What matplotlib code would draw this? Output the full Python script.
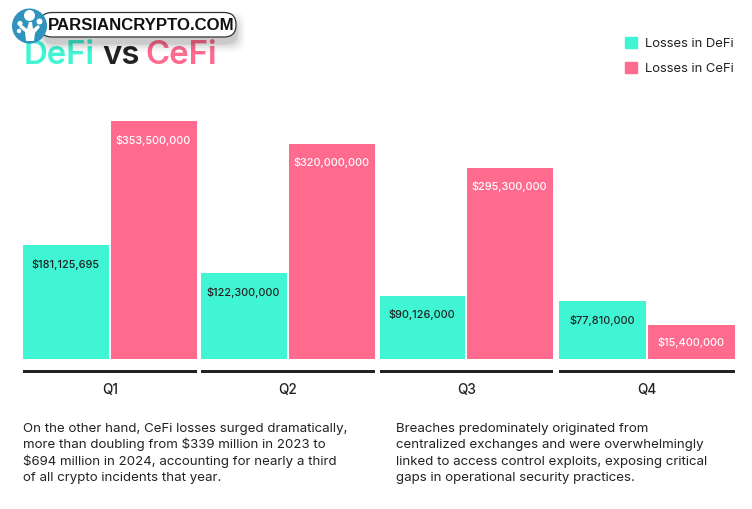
import matplotlib
matplotlib.use("Agg")
import matplotlib.pyplot as plt
from matplotlib.patches import Circle, FancyBboxPatch, Polygon, Patch

# ---- data ----
quarters = ["Q1", "Q2", "Q3", "Q4"]
# Printed labels
defi_labels = ["$181,125,695", "$122,300,000", "$90,126,000", "$77,810,000"]
cefi_labels = ["$353,500,000", "$320,000,000", "$295,300,000", "$15,400,000"]
# Bar heights as drawn in the picture, in $ million (the source's bars are not
# strictly proportional to their printed labels)
defi_drawn = [169.3, 127.7, 93.6, 86.1]
cefi_drawn = [353.5, 319.4, 283.7, 50.5]
series_names = ["Losses in DeFi", "Losses in CeFi"]
title_parts = ["DeFi", "vs", "CeFi"]
para_left = ["On the other hand, CeFi losses surged dramatically,",
             "more than doubling from $339 million in 2023 to",
             "$694 million in 2024, accounting for nearly a third",
             "of all crypto incidents that year."]
para_right = ["Breaches predominately originated from",
              "centralized exchanges and were overwhelmingly",
              "linked to access control exploits, exposing critical",
              "gaps in operational security practices."]
watermark = "PARSIANCRYPTO.COM"

# ---- style / layout ----
W, H = 752, 509
TEAL, PINK, DARK = "#3ff5d3", "#ff6a8f", "#222222"
plt.rcParams["font.family"] = ["Inter", "DejaVu Sans"]
PX = 0.72  # px -> pt at dpi 100

fig = plt.figure(figsize=(W / 100, H / 100), dpi=100)
# bar axes: baseline at y=359 px, 353.5M at y=121 px
ax = fig.add_axes([0, (H - 359) / H, 1, 238 / H])
ax.set_xlim(0, W)
ax.set_ylim(0, 353.5)
ax.patch.set_alpha(0)
for s in ax.spines.values():
    s.set_visible(False)
ax.yaxis.set_visible(False)

group_l = [23, 201, 379.5, 559]
group_r = [197, 374.5, 553, 735]
centers = [(l + r) / 2 for l, r in zip(group_l, group_r)]
gap = 2
y_per_px = 353.5 / 238

for i, q in enumerate(quarters):
    l, r = group_l[i], group_r[i]
    w = (r - l - gap) / 2
    ax.bar(l + w / 2, defi_drawn[i], width=w, color=TEAL, label=series_names[0] if i == 0 else None)
    ax.bar(r - w / 2, cefi_drawn[i], width=w, color=PINK, label=series_names[1] if i == 0 else None)
    for xc, h, t, c in [(l + w / 2, defi_drawn[i], defi_labels[i], DARK),
                        (r - w / 2, cefi_drawn[i], cefi_labels[i], "white")]:
        off = min(19, h / y_per_px / 2)
        ax.annotate(t, (xc - 0.5, h), xytext=(0, -off * PX), textcoords="offset points",
                    ha="center", va="center", color=c, fontsize=10.9 * PX, fontweight="medium")

ax.set_xticks(centers)
ax.set_xticklabels(quarters, fontsize=13.6 * PX, color=DARK, fontweight="medium")
ax.tick_params(axis="x", length=0, pad=(383 - 359) * PX)

ax.legend(handles=[Patch(color=TEAL, label=series_names[0]), Patch(color=PINK, label=series_names[1])],
          loc="upper right", bbox_to_anchor=(742 / W, 1 + (121 - 29) / 238), frameon=False,
          fontsize=13 * PX, handlelength=0.92, handleheight=0.92, handletextpad=0.62,
          labelspacing=0.92, labelcolor=DARK, borderpad=0.6, borderaxespad=0)

# overlay in pixel coordinates
ov = fig.add_axes([0, 0, 1, 1], zorder=5)
ov.set_xlim(0, W)
ov.set_ylim(H, 0)
ov.axis("off")

for l, r in zip(group_l, group_r):
    ov.fill_between([l, r], 370, 373, color=DARK, lw=0)

for xl, s, c in zip([24, 102, 145.5], title_parts, [TEAL, DARK, PINK]):
    ov.text(xl, 64, s, fontsize=33 * PX, fontweight="semibold", color=c, ha="left", va="baseline", zorder=2)

for xl, para in [(23, para_left), (395.5, para_right)]:
    for k, line in enumerate(para):
        ov.text(xl, 432 + 16.3 * k, line, fontsize=13.28 * PX, color=DARK, ha="left", va="baseline")

# watermark badge
for pad, a in [(9, .025), (7, .03), (5, .04), (3, .05), (1.5, .07)]:
    ov.add_patch(FancyBboxPatch((45 - pad, 17 - pad + 4), 191 + 2 * pad, 22 + 2 * pad,
                                boxstyle="round,pad=0,rounding_size=11", fc="black", ec="none", alpha=a, zorder=3))
ov.add_patch(FancyBboxPatch((40, 12.5), 196, 24.5, boxstyle="round,pad=0,rounding_size=12",
                            fc="white", ec="#333333", lw=0.9, zorder=4))
ov.text(48, 25, watermark, fontsize=16.8 * PX, fontweight="bold", color="#111111",
        ha="left", va="center", zorder=5, family=["Liberation Sans", "DejaVu Sans"])
ov.add_patch(Circle((29.5, 26), 17.5, fc="#2f93bd", ec="none", zorder=6))
ov.add_patch(Polygon([[26, 41], [25, 32], [19, 27], [22, 25], [27, 29], [29, 22], [32, 22], [33, 29],
                      [38, 25], [40, 27], [35, 33], [34, 41]], fc="white", ec="none", zorder=7))
for x, y, r in [(29.5, 15.5, 5.5), (20, 23.5, 2.6), (39.5, 21.5, 3), (19, 31, 2.2)]:
    ov.add_patch(Circle((x, y), r, fc="white", ec="none", zorder=7))

fig.savefig("out.png", dpi=100)
